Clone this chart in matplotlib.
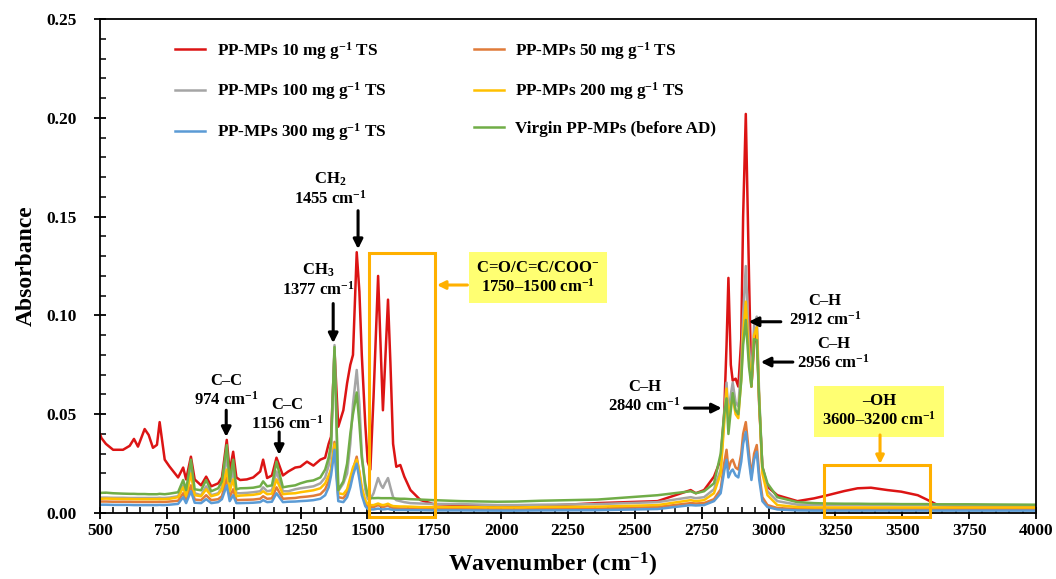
import matplotlib
matplotlib.use('Agg')
import matplotlib.pyplot as plt
import matplotlib.patches as patches
from matplotlib.ticker import MultipleLocator, FormatStrFormatter

plt.rcParams['font.family'] = ['Liberation Serif', 'DejaVu Serif']
plt.rcParams['font.weight'] = 'bold'
plt.rcParams['mathtext.fontset'] = 'custom'
plt.rcParams['mathtext.rm'] = 'Liberation Serif:bold'
plt.rcParams['mathtext.bf'] = 'Liberation Serif:bold'
plt.rcParams['mathtext.it'] = 'Liberation Serif:bold'

# wavenumber grid (cm-1)
wn = [500, 505, 522, 549, 586, 611, 627, 642, 667, 682,
      698, 713, 723, 732, 742, 760, 792, 811, 822, 840,
      854, 878, 897, 916, 942, 956, 974, 985, 998, 1010,
      1024, 1049, 1073, 1099, 1110, 1125, 1143, 1160, 1184, 1204,
      1230, 1249, 1274, 1298, 1324, 1342, 1355, 1364, 1377, 1391,
      1410, 1424, 1436, 1446, 1460, 1470, 1479, 1492, 1501, 1511,
      1523, 1540, 1551, 1558, 1566, 1577, 1586, 1596, 1608, 1623,
      1638, 1661, 1698, 1747, 1850, 1986, 2060, 2147, 2360, 2585,
      2709, 2728, 2759, 2796, 2821, 2834, 2843, 2850, 2859, 2866,
      2877, 2887, 2898, 2905, 2915, 2927, 2936, 2946, 2956, 2965,
      2977, 2996, 3033, 3108, 3170, 3221, 3283, 3333, 3383, 3445,
      3496, 3558, 3595, 3633, 3745, 3850, 4000]

abs_10 = [0.040, 0.038, 0.035, 0.032, 0.032, 0.034, 0.0375, 0.0336, 0.0425, 0.0395,
          0.033, 0.0345, 0.046, 0.037, 0.027, 0.0235, 0.018, 0.023, 0.017, 0.0285,
          0.017, 0.014, 0.0184, 0.0135, 0.015, 0.018, 0.037, 0.021, 0.031, 0.018,
          0.0167, 0.017, 0.018, 0.021, 0.027, 0.0177, 0.019, 0.028, 0.019, 0.021,
          0.023, 0.0234, 0.026, 0.024, 0.027, 0.028, 0.035, 0.0386, 0.082, 0.0437,
          0.052, 0.0657, 0.075, 0.080, 0.132, 0.112, 0.080, 0.045, 0.026, 0.022,
          0.059, 0.120, 0.078, 0.052, 0.075, 0.108, 0.076, 0.035, 0.0234, 0.0243,
          0.0184, 0.0116, 0.0066, 0.0045, 0.004, 0.0028, 0.003, 0.0035, 0.005, 0.006,
          0.0116, 0.010, 0.0116, 0.0184, 0.027, 0.050, 0.085, 0.119, 0.075, 0.067,
          0.068, 0.064, 0.088, 0.150, 0.202, 0.120, 0.064, 0.085, 0.094, 0.055,
          0.0234, 0.0133, 0.009, 0.006, 0.0074, 0.009, 0.0111, 0.0125, 0.0128, 0.0116,
          0.0108, 0.009, 0.0066, 0.004, 0.0035, 0.0035, 0.0035]

abs_50 = [0.0058, 0.0058, 0.0058, 0.0057, 0.0057, 0.0057, 0.0056, 0.0056, 0.0056, 0.0056,
          0.0056, 0.0056, 0.0057, 0.0056, 0.0056, 0.0058, 0.0062, 0.010, 0.0065, 0.014,
          0.0068, 0.0065, 0.009, 0.0065, 0.007, 0.0085, 0.018, 0.008, 0.012, 0.0065,
          0.0066, 0.0067, 0.0068, 0.0072, 0.0085, 0.0072, 0.0074, 0.013, 0.0072, 0.0074,
          0.0076, 0.008, 0.0083, 0.0087, 0.0095, 0.012, 0.016, 0.022, 0.036, 0.008,
          0.0075, 0.010, 0.016, 0.022, 0.0285, 0.020, 0.011, 0.005, 0.0035, 0.003,
          0.003, 0.004, 0.0033, 0.003, 0.0033, 0.0038, 0.003, 0.0025, 0.0024, 0.0023,
          0.0023, 0.0022, 0.0021, 0.002, 0.002, 0.0018, 0.0018, 0.002, 0.0022, 0.003,
          0.005, 0.0048, 0.005, 0.007, 0.012, 0.025, 0.032, 0.022, 0.026, 0.027,
          0.023, 0.022, 0.030, 0.040, 0.046, 0.030, 0.0183, 0.030, 0.0344, 0.020,
          0.008, 0.004, 0.0025, 0.002, 0.002, 0.002, 0.002, 0.002, 0.002, 0.002,
          0.002, 0.002, 0.002, 0.002, 0.002, 0.002, 0.002]

abs_100 = [0.0078, 0.0078, 0.0078, 0.0077, 0.0077, 0.0076, 0.0076, 0.0076, 0.0076, 0.0076,
           0.0076, 0.0076, 0.0077, 0.0076, 0.0076, 0.0078, 0.0085, 0.014, 0.0095, 0.022,
           0.010, 0.009, 0.0135, 0.009, 0.010, 0.013, 0.029, 0.013, 0.022, 0.010,
           0.010, 0.0102, 0.0105, 0.011, 0.013, 0.011, 0.0115, 0.021, 0.011, 0.011,
           0.012, 0.0125, 0.013, 0.0135, 0.015, 0.018, 0.024, 0.032, 0.085, 0.011,
           0.015, 0.020, 0.035, 0.055, 0.0724, 0.055, 0.030, 0.012, 0.007, 0.007,
           0.010, 0.0177, 0.014, 0.0127, 0.015, 0.0177, 0.013, 0.008, 0.0065, 0.006,
           0.0055, 0.005, 0.0048, 0.0046, 0.0045, 0.004, 0.004, 0.0042, 0.0045, 0.0055,
           0.008, 0.0075, 0.008, 0.012, 0.022, 0.048, 0.066, 0.050, 0.060, 0.066,
           0.056, 0.054, 0.075, 0.100, 0.125, 0.085, 0.068, 0.095, 0.0994, 0.060,
           0.022, 0.011, 0.006, 0.0042, 0.004, 0.004, 0.004, 0.004, 0.004, 0.004,
           0.004, 0.004, 0.004, 0.004, 0.0038, 0.0038, 0.0038]

abs_200 = [0.0072, 0.0072, 0.0073, 0.0072, 0.0071, 0.0071, 0.0070, 0.0070, 0.0070, 0.0070,
           0.0070, 0.0070, 0.0071, 0.0070, 0.0070, 0.0072, 0.0080, 0.013, 0.0085, 0.020,
           0.009, 0.0085, 0.012, 0.0085, 0.0095, 0.012, 0.022, 0.011, 0.017, 0.0085,
           0.0088, 0.009, 0.0092, 0.0098, 0.011, 0.0095, 0.0098, 0.017, 0.0095, 0.0098,
           0.010, 0.0105, 0.011, 0.0115, 0.0125, 0.015, 0.019, 0.022, 0.035, 0.010,
           0.0095, 0.012, 0.018, 0.023, 0.027, 0.021, 0.013, 0.0065, 0.0045, 0.004,
           0.004, 0.0048, 0.0042, 0.004, 0.0042, 0.0047, 0.004, 0.0035, 0.0034, 0.0033,
           0.0033, 0.0032, 0.003, 0.003, 0.003, 0.0028, 0.0028, 0.003, 0.0032, 0.004,
           0.0065, 0.006, 0.0065, 0.010, 0.020, 0.045, 0.063, 0.048, 0.055, 0.058,
           0.050, 0.048, 0.068, 0.090, 0.107, 0.078, 0.064, 0.090, 0.094, 0.057,
           0.020, 0.009, 0.004, 0.003, 0.0028, 0.0028, 0.0028, 0.0028, 0.0028, 0.0028,
           0.0028, 0.0028, 0.0028, 0.0028, 0.0028, 0.0028, 0.0028]

abs_300 = [0.0042, 0.0042, 0.0042, 0.0041, 0.0041, 0.0041, 0.0040, 0.0040, 0.0040, 0.0040,
           0.0040, 0.0040, 0.0041, 0.0040, 0.0040, 0.0042, 0.0046, 0.008, 0.005, 0.011,
           0.0052, 0.005, 0.007, 0.005, 0.0055, 0.007, 0.014, 0.006, 0.009, 0.005,
           0.005, 0.0051, 0.0052, 0.0055, 0.0065, 0.0055, 0.0057, 0.010, 0.0055, 0.0057,
           0.0058, 0.006, 0.0062, 0.0065, 0.0072, 0.009, 0.013, 0.019, 0.032, 0.006,
           0.0055, 0.008, 0.013, 0.019, 0.025, 0.017, 0.009, 0.0035, 0.002, 0.0018,
           0.0018, 0.0022, 0.0019, 0.0018, 0.0019, 0.0021, 0.0018, 0.0016, 0.0015, 0.0015,
           0.0015, 0.0014, 0.0014, 0.0013, 0.0013, 0.0012, 0.0012, 0.0013, 0.0014, 0.002,
           0.004, 0.0038, 0.004, 0.006, 0.010, 0.021, 0.027, 0.018, 0.021, 0.022,
           0.019, 0.018, 0.026, 0.035, 0.041, 0.026, 0.0167, 0.027, 0.031, 0.017,
           0.006, 0.003, 0.0018, 0.0013, 0.0012, 0.0012, 0.0012, 0.0012, 0.0012, 0.0012,
           0.0012, 0.0012, 0.0012, 0.0012, 0.0012, 0.0012, 0.0012]

abs_virgin = [0.0100, 0.0102, 0.0103, 0.0100, 0.0098, 0.0097, 0.0097, 0.0096, 0.0096, 0.0095,
              0.0095, 0.0095, 0.0097, 0.0096, 0.0095, 0.0098, 0.0105, 0.0167, 0.0116, 0.027,
              0.012, 0.0115, 0.0167, 0.011, 0.0125, 0.016, 0.0344, 0.016, 0.027, 0.012,
              0.0125, 0.0126, 0.0128, 0.0135, 0.016, 0.0135, 0.014, 0.026, 0.013, 0.0135,
              0.014, 0.015, 0.016, 0.0165, 0.018, 0.022, 0.028, 0.035, 0.084, 0.0116,
              0.016, 0.025, 0.040, 0.050, 0.061, 0.045, 0.028, 0.015, 0.009, 0.0076,
              0.0075, 0.0076, 0.0075, 0.0075, 0.0075, 0.0075, 0.0075, 0.0074, 0.0073, 0.0072,
              0.0072, 0.007, 0.0068, 0.0065, 0.006, 0.0057, 0.0058, 0.0062, 0.0068, 0.009,
              0.011, 0.010, 0.011, 0.015, 0.030, 0.050, 0.058, 0.040, 0.052, 0.0607,
              0.052, 0.050, 0.067, 0.085, 0.0977, 0.074, 0.064, 0.088, 0.0875, 0.057,
              0.0234, 0.015, 0.008, 0.0055, 0.005, 0.0048, 0.0047, 0.0047, 0.0046, 0.0046,
              0.0045, 0.0045, 0.0045, 0.0044, 0.0044, 0.0043, 0.0042]

labels = ['PP-MPs 10 mg g$^{-1}$ TS', 'PP-MPs 50 mg g$^{-1}$ TS',
          'PP-MPs 100 mg g$^{-1}$ TS', 'PP-MPs 200 mg g$^{-1}$ TS',
          'PP-MPs 300 mg g$^{-1}$ TS', 'Virgin PP-MPs (before AD)']
colors = ['#dc1414', '#e07b39', '#a5a5a5', '#ffc000', '#5b9bd5', '#70ad47']
series = [abs_10, abs_50, abs_100, abs_200, abs_300, abs_virgin]

fig = plt.figure(figsize=(10.56, 5.79), dpi=100, facecolor='white')
ax = fig.add_axes([0.0947, 0.114, 0.8863, 0.853])

lines = []
for y, c, lab in zip(series, colors, labels):
    ln, = ax.plot(wn, y, color=c, lw=1.8, label=lab)
    lines.append(ln)

ax.set_xlim(500, 4000)
ax.set_ylim(0, 0.25)
ax.xaxis.set_major_locator(MultipleLocator(250))
ax.xaxis.set_minor_locator(MultipleLocator(50))
ax.yaxis.set_major_locator(MultipleLocator(0.05))
ax.yaxis.set_minor_locator(MultipleLocator(0.01))
ax.yaxis.set_major_formatter(FormatStrFormatter('%.2f'))
ax.tick_params(which='major', direction='inout', length=8, width=1.3, labelsize=12.5)
ax.tick_params(axis='y', which='major', pad=13)
ax.tick_params(which='minor', direction='in', length=4, width=1.1)
for s in ax.spines.values():
    s.set_linewidth(1.3)

ax.set_xlabel('Wavenumber (cm$^{-1}$)', fontsize=17, fontweight='bold')
ax.set_ylabel('Absorbance', fontsize=17, fontweight='bold')
ax.xaxis.set_label_coords(0.484, -0.077)
ax.yaxis.set_label_coords(-0.068, 0.5)

# legend: row-major order as in the figure
order = [0, 2, 4, 1, 3, 5]
ax.legend([lines[i] for i in order], [labels[i] for i in order], ncol=2,
          loc='upper left', bbox_to_anchor=(0.080, 0.958), frameon=False,
          fontsize=12.3, labelspacing=1.1, handlelength=1.75, handletextpad=0.7,
          columnspacing=5.1, borderpad=0, borderaxespad=0)

arrow_k = dict(arrowstyle='-|>', color='black', lw=2.2, mutation_scale=14, shrinkA=0, shrinkB=0)
arrow_o = dict(arrowstyle='-|>', color='#ffb000', lw=2.2, mutation_scale=12, shrinkA=0, shrinkB=0)
tk = dict(ha='center', va='center', fontsize=12, fontweight='bold', linespacing=1.15)

# band annotations
ax.text(972, 0.0617, 'C\u2013C\n974 cm$^{-1}$', **tk)
ax.annotate('', xy=(972, 0.0385), xytext=(972, 0.052), arrowprops=arrow_k)
ax.text(1200, 0.0496, 'C\u2013C\n1156 cm$^{-1}$', **tk)
ax.annotate('', xy=(1170, 0.0294), xytext=(1170, 0.041), arrowprops=arrow_k)
ax.text(1316, 0.118, 'CH$_3$\n1377 cm$^{-1}$', **tk)
ax.annotate('', xy=(1372, 0.086), xytext=(1372, 0.106), arrowprops=arrow_k)
ax.text(1361, 0.164, 'CH$_2$\n1455 cm$^{-1}$', **tk)
ax.annotate('', xy=(1465, 0.1336), xytext=(1465, 0.153), arrowprops=arrow_k)
ax.text(2537, 0.0587, 'C\u2013H\n2840 cm$^{-1}$', **tk)
ax.annotate('', xy=(2825, 0.0531), xytext=(2686, 0.0531), arrowprops=arrow_k)
ax.text(3211, 0.1022, 'C\u2013H\n2912 cm$^{-1}$', **tk)
ax.annotate('', xy=(2926, 0.0968), xytext=(3046, 0.0968), arrowprops=arrow_k)
ax.text(3244, 0.0805, 'C\u2013H\n2956 cm$^{-1}$', **tk)
ax.annotate('', xy=(2971, 0.0764), xytext=(3091, 0.0764), arrowprops=arrow_k)

# highlighted regions
ax.add_patch(patches.Rectangle((1505, -0.002), 247, 0.1335, fill=False,
                               edgecolor='#ffb000', lw=2.2, clip_on=False, zorder=5))
ax.add_patch(patches.Rectangle((3207, -0.002), 397, 0.0263, fill=False,
                               edgecolor='#ffb000', lw=2.2, clip_on=False, zorder=5))
box = dict(boxstyle='square,pad=0.45', facecolor='#ffff72', edgecolor='none')
ax.text(2138, 0.119, 'C=O/C=C/COO$^{-}$\n1750\u20131500 cm$^{-1}$', bbox=box, **tk)
ax.annotate('', xy=(1760, 0.1154), xytext=(1874, 0.1154), arrowprops=arrow_o)
ax.text(3413, 0.0516, '\u2013OH\n3600\u20133200 cm$^{-1}$', bbox=box, **tk)
ax.annotate('', xy=(3417, 0.0248), xytext=(3417, 0.0395), arrowprops=arrow_o)

fig.savefig('out.png', dpi=100, facecolor='white')
